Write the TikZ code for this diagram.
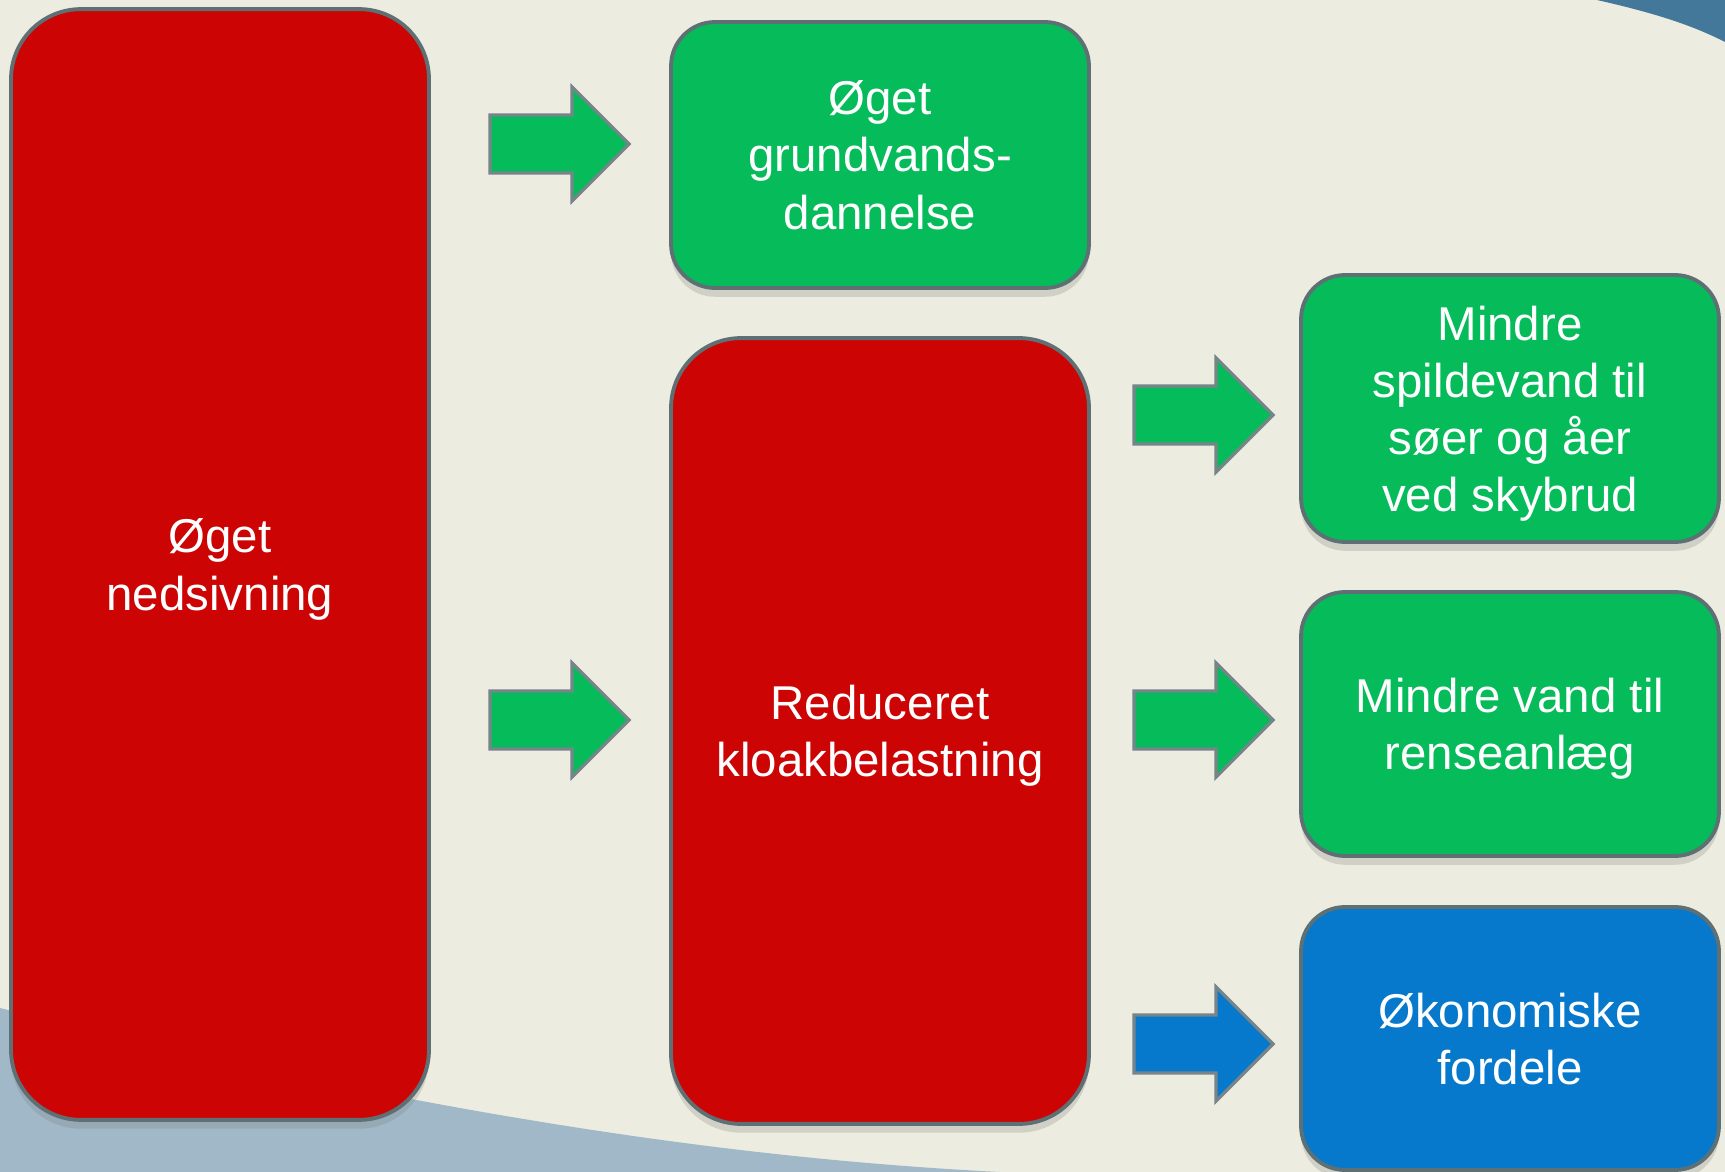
\documentclass[tikz,border=0pt]{standalone}
\usepackage{fontspec}
\setmainfont{Liberation Sans}
\usepackage{tikz}
\usetikzlibrary{shapes.arrows, shadows}
\definecolor{boxred}{RGB}{204, 4, 4}
\definecolor{boxgreen}{RGB}{5, 187, 90}
\definecolor{boxblue}{RGB}{7, 121, 204}
\definecolor{slidebg}{RGB}{236, 236, 224}
\definecolor{wavegrey}{RGB}{160, 184, 200}
\definecolor{swooshblue}{RGB}{68, 120, 154}
\definecolor{rimgrey}{RGB}{94, 112, 116}

\tikzset{
  effectbox/.style={draw=rimgrey, line width=2.2pt, text=white, align=center, inner sep=0pt, minimum width=8.36cm, text depth=0pt, font=\fontsize{27}{32.5}\selectfont, drop shadow={shadow xshift=0pt, shadow yshift=-5pt, opacity=0.25}},
  bigbox/.style={effectbox, rounded corners=1.4cm},
  smallbox/.style={effectbox, rounded corners=0.88cm},
  blockarrow/.style={single arrow, draw=rimgrey!85, line width=1.8pt, minimum height=2.78cm, inner sep=0pt, inner ysep=0.55cm, single arrow head extend=0.56cm}
}

\begin{document}
\begin{tikzpicture}[x=0.02cm, y=-0.02cm]
  \useasboundingbox (0,0) rectangle (1725,1172);
  \clip (0,0) rectangle (1725,1172);

  % Slide background
  \fill[slidebg] (0,0) rectangle (1725,1172);
  \fill[wavegrey] (0,1008) .. controls (330,1090) and (660,1155) .. (1000,1172) -- (0,1172) -- cycle;
  \fill[swooshblue] (1597,0) .. controls (1650,12) and (1690,24) .. (1725,42) -- (1725,0) -- cycle;

  % Left column
  \node[bigbox, fill=boxred, minimum height=22.22cm] (nedsiv) at (220,564.5) {Øget\\nedsivning};

  % Middle column
  \node[smallbox, fill=boxgreen, minimum height=5.32cm] (grund) at (880,155) {Øget\\grundvands-\\dannelse};
  \node[bigbox, fill=boxred, minimum height=15.72cm] (kloak) at (880,731) {Reduceret\\kloakbelastning};

  % Right column
  \node[smallbox, fill=boxgreen, minimum height=5.34cm] (spild) at (1510,408.5) {Mindre\\spildevand til\\søer og åer\\ved skybrud};
  \node[smallbox, fill=boxgreen, minimum height=5.28cm] (rense) at (1510,724) {Mindre vand til\\renseanlæg};
  \node[smallbox, fill=boxblue, minimum height=5.26cm] (okon) at (1510,1038.5) {Økonomiske\\fordele};

  % Block arrows
  \node[blockarrow, fill=boxgreen] (arrgrund) at (545,144) {};
  \node[blockarrow, fill=boxgreen] (arrkloak) at (545,720) {};
  \node[blockarrow, fill=boxgreen] (arrspild) at (1189,415) {};
  \node[blockarrow, fill=boxgreen] (arrrense) at (1189,720) {};
  \node[blockarrow, fill=boxblue] (arrokon) at (1189,1044) {};
\end{tikzpicture}
\end{document}
